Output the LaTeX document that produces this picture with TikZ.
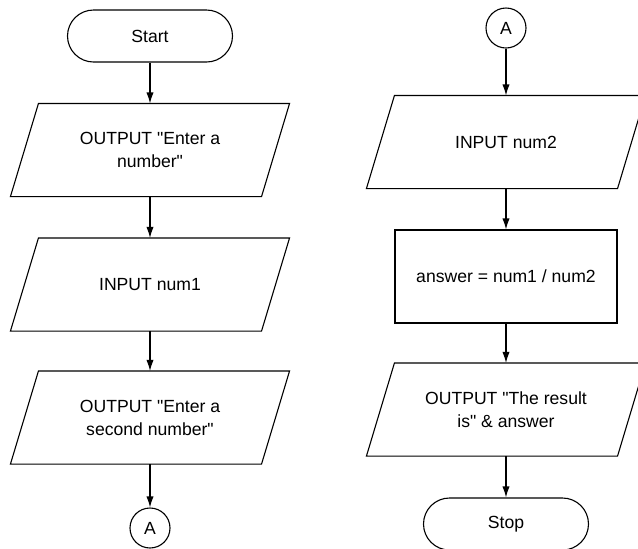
\documentclass[tikz,border=0pt]{standalone}
\usepackage{fontspec}
\setmainfont{Liberation Sans}[Ligatures=TeXOff]
\usetikzlibrary{arrows.meta}

\tikzset{
  term/.style={draw, rectangle, rounded corners=13pt, minimum width=82.5pt, minimum height=26pt},
  iobox/.style={rectangle, minimum width=125pt, minimum height=46pt, inner sep=0pt, align=center},
  proc/.style={draw, rectangle, minimum width=111pt, minimum height=46.5pt},
  conn/.style={draw, circle, minimum size=20pt, inner sep=0pt}
}

\begin{document}
\begin{tikzpicture}[x=0.5pt, y=-0.5pt, >={Latex[length=5.5pt,width=3.6pt]}, line width=0.55pt,
  font=\fontsize{8.8}{11.5}\selectfont]
  \useasboundingbox (0,0) rectangle (638,548);
  % ---- left column ----
  \node[term] (start) at (150,36) {Start};
  \node[iobox] (out1) at (150,150) {OUTPUT "Enter a\\ number"};
  \node[iobox] (in1) at (150,284.5) {INPUT num1};
  \node[iobox] (out2) at (150,417.5) {OUTPUT "Enter a\\ second number"};
  \node[conn] (conA) at (150,528) {A};
  \draw[->] (start) -- (out1);
  \draw[->] (out1) -- (in1);
  \draw[->] (in1) -- (out2);
  \draw[->] (out2) -- (conA);
  % ---- right column ----
  \node[conn] (conB) at (506,28) {A};
  \node[iobox] (in2) at (506,142) {INPUT num2};
  \node[proc] (calc) at (506,276.5) {answer = num1 / num2};
  \node[iobox] (out3) at (506,409.5) {OUTPUT "The result\\ is" \& answer};
  \node[term] (stop) at (506,524) {Stop};
  \draw[->] (conB) -- (in2);
  \draw[->] (in2) -- (calc);
  \draw[->] (calc) -- (out3);
  \draw[->] (out3) -- (stop);
  % parallelogram outlines for input / output
  \foreach \n in {out1,in1,out2,in2,out3}
    \draw ([xshift=-7pt]\n.south west) -- ([xshift=-7pt]\n.south east)
      -- ([xshift=7pt]\n.north east) -- ([xshift=7pt]\n.north west) -- cycle;
\end{tikzpicture}
\end{document}
